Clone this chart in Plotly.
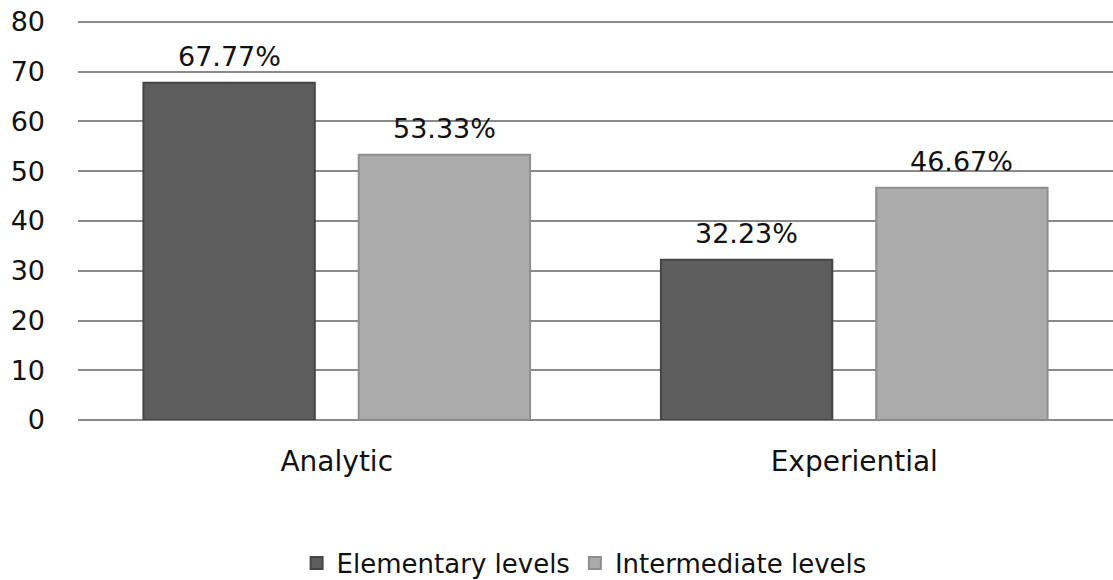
import plotly.graph_objects as go

categories = ["Analytic", "Experiential"]
elementary = [67.77, 32.23]
intermediate = [53.33, 46.67]
elem_labels = ["67.77%", "32.23%"]
inter_labels = ["53.33%", "46.67%"]
y_ticks = [0, 10, 20, 30, 40, 50, 60, 70, 80]

FONT = "DejaVu Sans"
BARGAP = 0.168
BARGROUPGAP = 0.204

fig = go.Figure()
fig.add_trace(go.Bar(
    name="Elementary levels", x=categories, y=elementary,
    marker=dict(color="#5d5d5d", line=dict(color="#454545", width=2)),
))
fig.add_trace(go.Bar(
    name="Intermediate levels", x=categories, y=intermediate,
    marker=dict(color="#ababab", line=dict(color="#8e8e8e", width=2)),
))

# value labels centred over each bar (offset derived from the bar geometry)
slot = (1 - BARGAP) / 2
for i, cat in enumerate(categories):
    for val, lab, off in ((elementary[i], elem_labels[i], -slot / 2),
                          (intermediate[i], inter_labels[i], slot / 2)):
        fig.add_annotation(x=i + off, y=val, xref="x", yref="y", text=lab,
                           showarrow=False, yanchor="middle", yshift=26,
                           font=dict(size=27, family=FONT, color="#111111"))

fig.update_layout(
    width=1113, height=580,
    margin=dict(l=78, r=0, t=19, b=160),
    paper_bgcolor="white", plot_bgcolor="white",
    barmode="group", bargap=BARGAP, bargroupgap=BARGROUPGAP,
    font=dict(family=FONT, size=27, color="#111111"),
    showlegend=True,
    legend=dict(orientation="h", x=0.489, xanchor="center",
                yref="container", y=0.029, yanchor="middle",
                font=dict(size=26, family=FONT, color="#111111"),
                itemwidth=30, traceorder="normal"),
)
fig.update_yaxes(range=[0, 80.6], tickvals=y_ticks, showgrid=True,
                 gridcolor="#8a8a8a", gridwidth=1.5, zeroline=True,
                 zerolinecolor="#8a8a8a", zerolinewidth=1.5,
                 showline=False, ticks="", ticklabelstandoff=32,
                 automargin=False,
                 tickfont=dict(size=27, family=FONT, color="#111111"))
fig.update_xaxes(showline=False, ticks="", ticklabelstandoff=22,
                 automargin=False,
                 tickfont=dict(size=28, family=FONT, color="#111111"))

fig.write_html("out.html")
